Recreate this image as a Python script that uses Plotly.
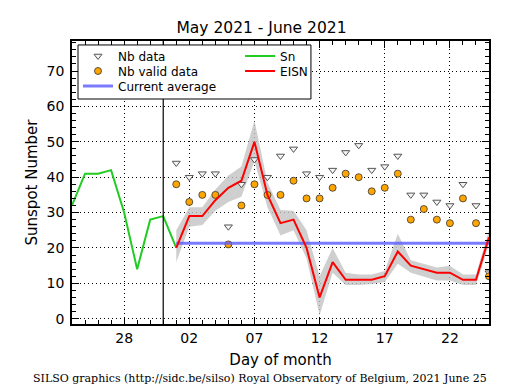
import plotly.graph_objects as go

# ---- data ----
sn_dates = ["2021-05-24", "2021-05-25", "2021-05-26", "2021-05-27", "2021-05-28",
            "2021-05-29", "2021-05-30", "2021-05-31", "2021-06-01"]
sn_values = [32, 41, 41, 42, 30, 14, 28, 29, 20]

june_dates = ["2021-06-%02d" % d for d in range(1, 26)]
eisn_values = [20, 29, 29, 33.5, 37, 39, 50, 35, 27, 28, 20, 6, 16, 11, 11, 11, 12, 19, 15, 14, 13, 13, 11, 11, 23]
eisn_lower = [16, 26, 26.5, 30.5, 33, 34.5, 44.5, 31.5, 23.5, 25, 17, 1, 13, 9.5, 9.5, 9.8, 10.4, 15.5, 13, 12, 10.8, 10.8, 9.5, 9.5, 21]
eisn_upper = [25, 31.5, 31.5, 36.5, 40.5, 43, 56, 38.5, 30.7, 30.5, 25, 12, 20, 13, 12.5, 12.5, 13.5, 24, 16.5, 15.5, 14.5, 15, 12.5, 12.5, 25]
nb_data = [44, 40, 41, 41, 26, 38, 45, 40, 46, 48, 41, 40, 42, 47, 49, 42, 43, 46, 35, 35, 33, 32, 38, 32, 13]
nb_valid = [38, 33, 35, 35, 21, 32, 38, 35, 35, 39, 34, 34, 37, 41, 40, 36, 37, 41, 28, 31, 28, 27, 34, 27, 12]
current_average = 21.3
avg_dates = ["2021-06-01", "2021-06-25"]

tick_dates = ["2021-05-28", "2021-06-02", "2021-06-07", "2021-06-12", "2021-06-17", "2021-06-22"]
y_ticks = [0, 10, 20, 30, 40, 50, 60, 70]
marker_line = "2021-05-31"

FONT = "DejaVu Sans"

fig = go.Figure()

# uncertainty band
fig.add_trace(go.Scatter(x=june_dates, y=eisn_upper, mode="lines", line=dict(width=0),
                         showlegend=False, hoverinfo="skip"))
fig.add_trace(go.Scatter(x=june_dates, y=eisn_lower, mode="lines", line=dict(width=0),
                         fill="tonexty", fillcolor="rgba(195,195,195,0.8)",
                         showlegend=False, hoverinfo="skip"))

fig.add_trace(go.Scatter(x=june_dates, y=nb_data, mode="markers", name="Nb data", legend="legend",
                         marker=dict(symbol="triangle-down", size=7, color="#f4f4f4",
                                     line=dict(color="#555555", width=1))))
fig.add_trace(go.Scatter(x=june_dates, y=nb_valid, mode="markers", name="Nb valid data", legend="legend2",
                         marker=dict(symbol="circle", size=7, color="#FFA500",
                                     line=dict(color="#333333", width=0.8))))
fig.add_trace(go.Scatter(x=avg_dates, y=[current_average] * len(avg_dates), mode="lines",
                         name="Current average", legend="legend3",
                         line=dict(color="rgba(90,90,255,0.8)", width=3)))
fig.add_trace(go.Scatter(x=sn_dates, y=sn_values, mode="lines", name="Sn", legend="legend4",
                         line=dict(color="#22CC22", width=2)))
fig.add_trace(go.Scatter(x=june_dates, y=eisn_values, mode="lines", name="EISN", legend="legend5",
                         line=dict(color="#FF0000", width=2)))

fig.add_shape(type="line", xref="x", yref="paper", x0=marker_line, x1=marker_line,
              y0=0, y1=1, line=dict(color="black", width=1.2))
# legend frame
fig.add_shape(type="rect", xref="paper", yref="paper", x0=0.0144, x1=0.573, y0=0.795, y1=0.986,
              line=dict(color="black", width=1), fillcolor="white", layer="above")

def leg(x, y):
    return dict(x=x, y=y, xanchor="left", yanchor="middle", orientation="v",
                bgcolor="rgba(0,0,0,0)", borderwidth=0, itemwidth=30,
                font=dict(size=12, family=FONT, color="black"))

fig.update_layout(
    width=507, height=382,
    margin=dict(l=64, r=26, t=33, b=66),
    paper_bgcolor="white", plot_bgcolor="white",
    font=dict(family=FONT, color="black", size=14),
    title=dict(text="May 2021 - June 2021", x=0.5, xanchor="center", y=0.950, yanchor="middle",
               font=dict(size=15.5, family=FONT)),
    legend=leg(0.0144, 0.947),
    legend2=leg(0.0144, 0.894),
    legend3=leg(0.0144, 0.841),
    legend4=leg(0.403, 0.947),
    legend5=leg(0.403, 0.894),
    showlegend=True,
)

fig.update_xaxes(
    type="date", range=["2021-05-24", "2021-06-25"],
    tickvals=tick_dates, tickformat="%d",
    ticks="inside", ticklen=7, tickwidth=1, tickcolor="black",
    minor=dict(dtick=86400000, ticks="inside", ticklen=4, tickcolor="black",
               showgrid=False),
    showline=True, linecolor="black", linewidth=1.5, mirror="allticks",
    showgrid=True, gridcolor="black", gridwidth=0.8, griddash="1px,3px",
    zeroline=False, automargin=False,
    title=dict(text="Day of month", font=dict(size=15, family=FONT), standoff=10),
    tickfont=dict(size=14, family=FONT),
)
fig.update_yaxes(
    range=[-1.5, 78.5], tickvals=y_ticks,
    ticks="inside", ticklen=7, tickwidth=1, tickcolor="black",
    minor=dict(dtick=2, ticks="inside", ticklen=4, tickcolor="black", showgrid=False),
    showline=True, linecolor="black", linewidth=1.5, mirror="allticks",
    showgrid=True, gridcolor="black", gridwidth=0.8, griddash="1px,3px",
    zeroline=False, automargin=False, ticklabelstandoff=3,
    title=dict(text="Sunspot Number", font=dict(size=15, family=FONT), standoff=5),
    tickfont=dict(size=14, family=FONT),
)

fig.add_annotation(text="SILSO graphics (http://sidc.be/silso) Royal Observatory of Belgium, 2021 June 25",
                   xref="paper", yref="paper", x=0.451, y=-0.194, xanchor="center", yanchor="middle",
                   showarrow=False, font=dict(family="DejaVu Serif", size=11, color="black"))

fig.write_html("out.html")
